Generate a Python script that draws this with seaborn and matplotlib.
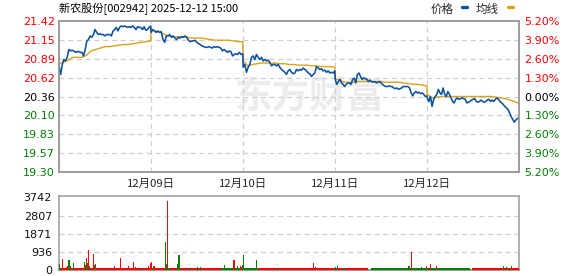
import numpy as np
import pandas as pd
import matplotlib
matplotlib.use("Agg")
import matplotlib.pyplot as plt
import seaborn as sns
from matplotlib.lines import Line2D

# ---------------- data ----------------
title = "新农股份[002942] 2025-12-12 15:00"
day_labels = ["12月09日", "12月10日", "12月11日", "12月12日"]
minutes_per_day = 241
n_days = 5

price_ticks = [21.42, 21.15, 20.89, 20.62, 20.36, 20.10, 19.83, 19.57, 19.30]
price_tick_labels = ["21.42", "21.15", "20.89", "20.62", "20.36", "20.10", "19.83", "19.57", "19.30"]
pct_tick_labels = ["5.20%", "3.90%", "2.60%", "1.30%", "0.00%", "1.30%", "2.60%", "3.90%", "5.20%"]
tick_sign = [1, 1, 1, 1, 0, -1, -1, -1, -1]
vol_ticks = [0, 936, 1871, 2807, 3742]

price_day1 = [20.79, 20.67, 20.81, 20.88, 20.86, 20.91, 21.02, 21.00, 21.01, 21.00, 20.98, 20.99,
              20.99, 20.98, 20.98, 20.93, 21.02, 21.14, 21.16, 21.21, 21.19, 21.23, 21.30, 21.26,
              21.23, 21.24, 21.23, 21.23, 21.21, 21.23, 21.23, 21.23, 21.21, 21.28, 21.30, 21.33,
              21.28, 21.33, 21.35, 21.34, 21.35, 21.34, 21.33, 21.34, 21.33, 21.35, 21.33, 21.30,
              21.34, 21.33, 21.33, 21.30, 21.34, 21.29, 21.30, 21.33, 21.35]
price_day2 = [21.26, 21.30, 21.28, 21.26, 21.28, 21.26, 21.27, 21.16, 21.12, 21.21, 21.21, 21.23,
              21.19, 21.21, 21.18, 21.16, 21.19, 21.18, 21.20, 21.19, 21.21, 21.19, 21.15, 21.13,
              21.14, 21.14, 21.15, 21.12, 21.10, 21.09, 21.07, 21.06, 21.05, 21.05, 21.06, 21.05,
              21.04, 21.06, 21.05, 21.06, 21.05, 21.04, 21.00, 21.02, 21.00, 20.98, 21.00, 20.99,
              20.93, 20.95, 20.96, 20.95, 20.98, 20.95, 20.96]
price_day3 = [20.77, 20.81, 20.70, 20.77, 20.81, 20.91, 20.93, 20.88, 20.95, 20.91, 20.88, 20.91,
              20.86, 20.88, 20.86, 20.87, 20.84, 20.79, 20.81, 20.81, 20.79, 20.81, 20.77, 20.74,
              20.72, 20.70, 20.67, 20.72, 20.74, 20.70, 20.68, 20.69, 20.74, 20.72, 20.74, 20.73,
              20.76, 20.74, 20.72, 20.69, 20.68, 20.64, 20.67, 20.69, 20.78, 20.76, 20.74, 20.75,
              20.72, 20.73, 20.70, 20.72, 20.69, 20.70, 20.69, 20.72]
price_day4 = [20.60, 20.53, 20.57, 20.60, 20.55, 20.53, 20.50, 20.53, 20.55, 20.55, 20.53, 20.60,
              20.62, 20.55, 20.67, 20.69, 20.64, 20.60, 20.62, 20.61, 20.60, 20.57, 20.59, 20.57,
              20.56, 20.57, 20.55, 20.56, 20.57, 20.55, 20.53, 20.51, 20.50, 20.50, 20.51, 20.50,
              20.50, 20.48, 20.47, 20.48, 20.46, 20.47, 20.48, 20.50, 20.50, 20.50, 20.50, 20.48,
              20.41, 20.37, 20.41, 20.43, 20.41, 20.42, 20.40, 20.41, 20.39, 20.36, 20.37]
price_day5 = [20.34, 20.29, 20.36, 20.22, 20.32, 20.36, 20.39, 20.46, 20.41, 20.39, 20.48, 20.39,
              20.36, 20.43, 20.39, 20.34, 20.29, 20.27, 20.32, 20.34, 20.32, 20.33, 20.34, 20.33,
              20.32, 20.27, 20.28, 20.29, 20.31, 20.32, 20.33, 20.29, 20.28, 20.29, 20.31, 20.29,
              20.28, 20.29, 20.31, 20.32, 20.29, 20.31, 20.29, 20.32, 20.34, 20.32, 20.29, 20.27,
              20.25, 20.22, 20.20, 20.18, 20.13, 20.08, 20.04, 20.00, 20.03, 20.05, 20.06]

avg_day1 = [20.82, 20.84, 20.87, 20.91, 20.91, 20.91, 20.94, 21.00, 21.02, 21.04, 21.06, 21.06,
            21.07, 21.08, 21.09, 21.09, 21.10, 21.11, 21.12, 21.13, 21.14]
avg_day2 = [21.29, 21.28, 21.26, 21.23, 21.21, 21.20, 21.20, 21.20, 21.19, 21.18, 21.18, 21.18,
            21.17, 21.16, 21.15, 21.15, 21.15, 21.15, 21.14, 21.13, 21.13]
avg_day3 = [20.86, 20.79, 20.81, 20.82, 20.83, 20.83, 20.83, 20.83, 20.82, 20.82, 20.81, 20.81,
            20.80, 20.80, 20.80, 20.79, 20.79, 20.78, 20.78, 20.78, 20.77]
avg_day4 = [20.61, 20.59, 20.56, 20.56, 20.56, 20.57, 20.57, 20.57, 20.57, 20.57, 20.57, 20.56,
            20.56, 20.56, 20.56, 20.55, 20.54, 20.53, 20.53, 20.52, 20.51]
avg_day5 = [20.39, 20.34, 20.35, 20.36, 20.36, 20.36, 20.36, 20.36, 20.36, 20.36, 20.36, 20.36,
            20.36, 20.36, 20.36, 20.35, 20.34, 20.33, 20.31, 20.29, 20.26]

vol_minute = [0, 5, 9, 16, 20, 23, 25, 28, 31, 37, 66, 70, 72, 75, 77, 79, 90, 92, 95, 99,
              138, 145, 160, 179, 183, 194, 200, 220, 232, 235, 239, 241, 247, 251, 254, 278,
              280, 283, 291, 299, 309, 314, 341, 362, 371, 432, 451, 458, 467, 474, 478, 480,
              483, 484, 489, 518, 573, 597, 601, 665, 672, 717, 723, 729, 732, 746, 774, 916,
              923, 950, 963, 972, 973, 989, 1163, 1171, 1185, 1189]
vol_value = [300, 88, 563, 88, 176, 229, 510, 510, 211, 370, 405, 264, 616, 352, 1038, 211,
             827, 264, 300, 88, 88, 194, 616, 123, 194, 405, 141, 123, 88, 229, 370, 422, 194,
             194, 88, 1420, 300, 3580, 88, 88, 300, 774, 88, 141, 141, 246, 88, 510, 194, 194,
             158, 264, 229, 774, 88, 510, 88, 88, 123, 352, 141, 88, 158, 194, 88, 88, 88, 211,
             932, 141, 211, 141, 300, 211, 194, 158, 194, 88]
vol_up = [0, 1, 1, 1, 1, 1, 0, 0, 1, 0, 0, 1, 1, 0, 1, 0, 1, 1, 0, 1,
          1, 1, 1, 1, 1, 1, 1, 0, 1, 1, 1, 1, 0, 1, 1, 0,
          0, 1, 1, 1, 0, 0, 0, 0, 0, 0, 0, 1, 0, 1, 1, 0,
          1, 0, 0, 0, 0, 1, 1, 1, 1, 1, 0, 0, 1, 0, 1, 0,
          1, 0, 1, 0, 1, 1, 0, 0, 0, 1]

# low-volume minutes between the spikes, as runs of minutes with their colour
base_run_start = [3, 277, 290, 423, 520, 816, 1082]
base_run_end = [277, 290, 423, 520, 808, 1077, 1204]
base_run_up = [1, 0, 1, 0, 1, 0, 1]
base_run_volume = [95, 95, 95, 95, 95, 95, 95]

# ---------------- build frames ----------------
def day_frame(days):
    xs, ys = [], []
    for d, vals in enumerate(days):
        xs.extend(d * minutes_per_day + np.linspace(0, minutes_per_day - 1, len(vals)))
        ys.extend(vals)
    return pd.DataFrame({"t": xs, "v": ys})

price_df = day_frame([price_day1, price_day2, price_day3, price_day4, price_day5])
avg_df = day_frame([avg_day1, avg_day2, avg_day3, avg_day4, avg_day5])
vol_df = pd.DataFrame({"t": vol_minute, "v": vol_value, "up": vol_up})
base_df = pd.DataFrame({"s": base_run_start, "e": base_run_end, "up": base_run_up, "v": base_run_volume})

total_minutes = minutes_per_day * n_days

# ---------------- style ----------------
sns.set_style("white")
plt.rcParams["font.family"] = ["DejaVu Sans"]
cjk = ["Noto Sans CJK SC", "DejaVu Sans"]

RED = "#ff0000"
GREEN = "#008000"
BLUE = "#0d51a1"
GOLD = "#d9a21b"
GRID = "#cfcfcf"
SPINE = "#9a9a9a"

W, H = 578, 276
fig = plt.figure(figsize=(W / 100, H / 100), dpi=100)
ax = fig.add_axes([59 / W, (H - 172) / H, 460 / W, 151 / H])
vax = fig.add_axes([59 / W, (H - 270) / H, 460 / W, 74 / H])

# watermark
ax.text(0.545, 0.5, "东方财富", transform=ax.transAxes, ha="center", va="center",
        fontsize=27, fontweight="bold", color="#ececec", family=cjk, zorder=0)

# lines
sns.lineplot(data=avg_df, x="t", y="v", ax=ax, color=GOLD, linewidth=1.0, zorder=3)
sns.lineplot(data=price_df, x="t", y="v", ax=ax, color=BLUE, linewidth=1.15, zorder=4)

ax.set_xlim(0, total_minutes - 1)
ax.set_ylim(price_ticks[-1], price_ticks[0])
ax.set_xlabel("")
ax.set_ylabel("")

day_bounds = [minutes_per_day * (i + 1) for i in range(len(day_labels))]
ax.set_xticks(day_bounds)
ax.set_xticklabels(day_labels, family=cjk, fontsize=8.2)
ax.tick_params(axis="x", length=0, pad=5)
ax.set_yticks(price_ticks)
ax.set_yticklabels(price_tick_labels, fontsize=8)
ax.tick_params(axis="y", length=0, pad=3)
col_for = {1: RED, 0: "#000000", -1: GREEN}
for lab, s in zip(ax.get_yticklabels(), tick_sign):
    lab.set_color(col_for[s])

for yv in price_ticks[1:-1]:
    ax.axhline(yv, color=GRID, lw=0.9, ls=(0, (4, 3)), zorder=1)
for xv in day_bounds:
    ax.axvline(xv, color=GRID, lw=0.9, ls=(0, (4, 3)), zorder=1)

rax = ax.twinx()
rax.set_ylim(ax.get_ylim())
rax.set_yticks(price_ticks)
rax.set_yticklabels(pct_tick_labels, fontsize=8)
rax.tick_params(axis="y", length=0, pad=4)
for lab, s in zip(rax.get_yticklabels(), tick_sign):
    lab.set_color(col_for[s])

for a in (ax, rax, vax):
    for sp in a.spines.values():
        sp.set_color(SPINE)
        sp.set_linewidth(1.1)

# volume
base_colors = [RED if u else GREEN for u in base_df["up"]]
vax.bar(base_df["s"], base_df["v"], width=base_df["e"] - base_df["s"], align="edge",
        color=base_colors, linewidth=0, zorder=3)
colors = [RED if u else GREEN for u in vol_df["up"]]
vax.bar(vol_df["t"], vol_df["v"], width=2.8, color=colors, linewidth=0, zorder=3)
vax.set_xlim(0, total_minutes - 1)
vax.set_ylim(0, vol_ticks[-1] * 1.02)
vax.set_xticks([])
vax.set_yticks(vol_ticks)
vax.set_yticklabels([str(v) for v in vol_ticks], fontsize=8, color="#111111")
vax.tick_params(axis="y", length=0, pad=5)
for yv in vol_ticks[1:-1]:
    vax.axhline(yv, color=GRID, lw=0.9, ls=(0, (4, 3)), zorder=1)
vax.spines["bottom"].set_linewidth(1.4)

# title & legend
fig.text(59 / W, 1 - 9 / H, title, ha="left", va="center", fontsize=8, family=cjk, color="#000000")
fig.text(431 / W, 1 - 9.5 / H, "价格", ha="left", va="center", fontsize=8.3, family=cjk)
fig.add_artist(Line2D([462 / W, 466.5 / W], [1 - 7 / H, 1 - 7 / H], color=BLUE, lw=2.4))
fig.text(476 / W, 1 - 9.5 / H, "均线", ha="left", va="center", fontsize=8.3, family=cjk)
fig.add_artist(Line2D([508 / W, 512.5 / W], [1 - 7 / H, 1 - 7 / H], color=GOLD, lw=2.4))

fig.savefig("out.png", dpi=100)
